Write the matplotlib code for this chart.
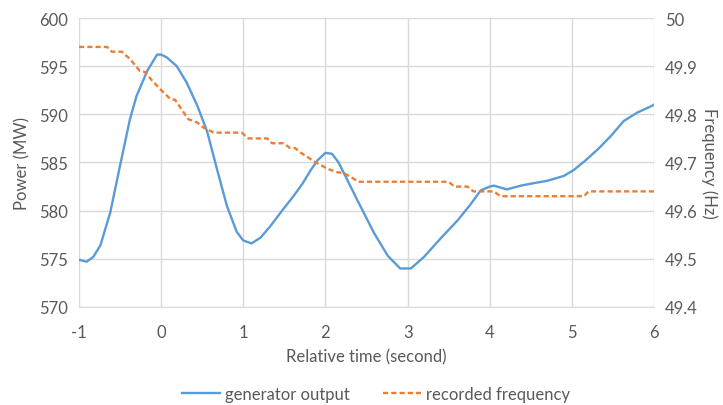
import matplotlib
matplotlib.use("Agg")
import matplotlib.pyplot as plt
from matplotlib.lines import Line2D

plt.rcParams['font.family'] = ['Lato', 'DejaVu Sans']
plt.rcParams['axes.unicode_minus'] = False

time_power = [-1.0, -0.907, -0.826, -0.74, -0.62, -0.5, -0.38, -0.3, -0.17, -0.05, 0.0, 0.07,
              0.19, 0.31, 0.44, 0.56, 0.68, 0.8, 0.92, 1.0, 1.1, 1.21, 1.33, 1.49, 1.61, 1.72,
              1.82, 1.9, 2.0, 2.08, 2.16, 2.26, 2.37, 2.59, 2.76, 2.91, 3.04, 3.2, 3.4, 3.61,
              3.77, 3.89, 4.0, 4.05, 4.13, 4.21, 4.29, 4.38, 4.5, 4.7, 4.9, 5.02, 5.15, 5.32,
              5.48, 5.63, 5.8, 5.93, 6.0]
power = [574.9, 574.7, 575.2, 576.4, 579.8, 584.7, 589.5, 591.9, 594.5, 596.2, 596.2, 595.9,
         595.0, 593.3, 590.9, 588.2, 584.3, 580.5, 577.8, 576.9, 576.6, 577.2, 578.4, 580.2,
         581.5, 582.8, 584.2, 585.2, 586.0, 585.9, 585.0, 583.3, 581.4, 577.7, 575.3, 574.0,
         574.0, 575.2, 577.1, 579.0, 580.7, 582.1, 582.5, 582.6, 582.4, 582.2, 582.4, 582.6,
         582.8, 583.1, 583.6, 584.2, 585.1, 586.4, 587.8, 589.3, 590.2, 590.7, 591.0]

time_freq = [-1.0, -0.66, -0.6, -0.48, -0.38, -0.26, -0.2, -0.11, -0.01, 0.11, 0.17,
             0.25, 0.33, 0.44, 0.51, 0.64, 0.98, 1.06, 1.29, 1.35, 1.49, 1.57,
             1.63, 1.7, 1.77, 1.85, 1.96, 2.04, 2.14, 2.22, 2.3, 2.4, 3.5, 3.57, 3.73, 3.8,
             4.05, 4.13, 5.15, 5.2, 6.0]
freq = [49.94, 49.94, 49.93, 49.93, 49.915, 49.89, 49.888, 49.87, 49.852, 49.832, 49.83,
        49.81, 49.79, 49.783, 49.773, 49.762, 49.762, 49.75, 49.75, 49.74, 49.74, 49.73,
        49.73, 49.72, 49.713, 49.703, 49.693, 49.686, 49.68, 49.678, 49.671, 49.66,
        49.66, 49.65, 49.65, 49.64, 49.64, 49.63, 49.63, 49.64, 49.64]

x_ticks = [-1, 0, 1, 2, 3, 4, 5, 6]
power_ticks = [570, 575, 580, 585, 590, 595, 600]
freq_ticks = [49.4, 49.5, 49.6, 49.7, 49.8, 49.9, 50]
freq_labels = ["49.4", "49.5", "49.6", "49.7", "49.8", "49.9", "50"]

BLUE = "#5B9BD5"
ORANGE = "#ED7D31"
GRID = "#D9D9D9"
TXT = "#595959"
FS = 12

fig = plt.figure(figsize=(7.23, 4.06), dpi=100)
ax = fig.add_axes([0.1093, 0.2414, 0.7953, 0.7118])
ax2 = ax.twinx()

ax.set_xlim(-1, 6)
ax.set_ylim(570, 600)
ax2.set_ylim(49.4, 50)
ax.set_xticks(x_ticks)
ax.set_yticks(power_ticks)
ax2.set_yticks(freq_ticks)
ax2.set_yticklabels(freq_labels)

ax.grid(True, color=GRID, linewidth=1.0)
ax.set_axisbelow(True)
for a in (ax, ax2):
    for s in a.spines.values():
        s.set_visible(False)
    a.tick_params(length=0, labelsize=FS, labelcolor=TXT)
ax.spines['bottom'].set_visible(True)
ax.spines['bottom'].set_color(GRID)
ax.tick_params(axis='x', pad=12)
ax.tick_params(axis='y', pad=8)
ax2.tick_params(axis='y', pad=8)

ax.plot(time_power, power, color=BLUE, linewidth=1.7, solid_joinstyle='round')
ax2.plot(time_freq, freq, color=ORANGE, linewidth=1.7, dashes=(2.2, 1.3))

ax.set_xlabel("Relative time (second)", fontsize=FS, color=TXT, labelpad=6)
ax.set_ylabel("Power (MW)", fontsize=FS, color=TXT, labelpad=6)
ax2.set_ylabel("Frequency (Hz)", fontsize=FS, color=TXT, rotation=270, labelpad=14)

handles = [Line2D([], [], color=BLUE, linewidth=1.7),
           Line2D([], [], color=ORANGE, linewidth=1.7, dashes=(2.2, 1.3))]
leg = fig.legend(handles, ["generator output", "recorded frequency"], loc='center',
                 bbox_to_anchor=(0.52, 0.027), ncol=2, frameon=False, fontsize=FS,
                 handlelength=2.3, handletextpad=0.3, columnspacing=2.0)
for t in leg.get_texts():
    t.set_color(TXT)

fig.savefig("out.png", dpi=100)
